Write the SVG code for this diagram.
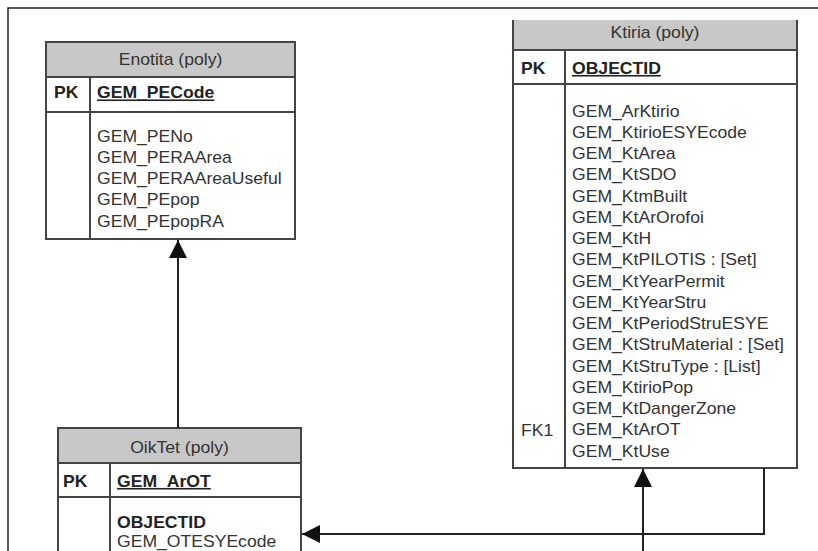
<svg xmlns="http://www.w3.org/2000/svg" width="818" height="551" viewBox="0 0 818 551">
<style>
text { font-family: "Liberation Sans", Arial, sans-serif; font-size: 16px; fill: #333; }
.b { font-weight: bold; fill: #222; }
.u { text-decoration: underline; }
.h { text-anchor: middle; }
.box { fill: #fff; stroke: #444; stroke-width: 2; }
.hdr { fill: #c8c8c8; stroke: #444; stroke-width: 2; }
.ln { fill: none; stroke: #444; stroke-width: 2; }
.con { fill: none; stroke: #222; stroke-width: 2; }
</style>
<defs>
<marker id="arr" markerUnits="userSpaceOnUse" markerWidth="19" markerHeight="19" refX="18" refY="9" orient="auto">
<path d="M0,0 L18,9 L0,18 z" fill="#111"/>
</marker>
</defs>
<rect x="0" y="0" width="818" height="551" fill="#fff"/>
<path d="M8,551 V8 H818" fill="none" stroke="#222" stroke-width="1.5"/>

<g id="enotita">
<rect class="box" x="46" y="42" width="249" height="197"/>
<rect class="hdr" x="46" y="42" width="249" height="35"/>
<line class="ln" x1="46" y1="112" x2="295" y2="112"/>
<line class="ln" x1="90" y1="77" x2="90" y2="239"/>
<g transform="translate(170.5,0) scale(1.1,1)"><text class="h" x="0" y="65">Enotita (poly)</text></g>
<g transform="translate(54,0) scale(1.1,1)"><text class="b" x="0" y="98.5">PK</text></g>
<g transform="translate(97,0) scale(1.1,1)">
<text class="b u" x="0" y="98.5">GEM_PECode</text>
<text x="0" y="141.7">GEM_PENo</text>
<text x="0" y="163">GEM_PERAArea</text>
<text x="0" y="184.2">GEM_PERAAreaUseful</text>
<text x="0" y="205.5">GEM_PEpop</text>
<text x="0" y="226.7">GEM_PEpopRA</text>
</g>
</g>

<g id="ktiria">
<rect x="513" y="20" width="284" height="448" fill="#fff"/>
<rect x="513" y="20" width="284" height="30" fill="#c8c8c8"/>
<path class="ln" d="M513,20 V468 H797 V20"/>
<line class="ln" x1="513" y1="50" x2="797" y2="50"/>
<line class="ln" x1="513" y1="84" x2="797" y2="84"/>
<line class="ln" x1="565" y1="50" x2="565" y2="468"/>
<g transform="translate(655,0) scale(1.1,1)"><text class="h" x="0" y="38">Ktiria (poly)</text></g>
<g transform="translate(521,0) scale(1.1,1)">
<text class="b" x="0" y="74">PK</text>
<text x="0" y="436">FK1</text>
</g>
<g transform="translate(572,0) scale(1.1,1)">
<text class="b u" x="0" y="74">OBJECTID</text>
<text x="0" y="116.7">GEM_ArKtirio</text>
<text x="0" y="137.9">GEM_KtirioESYEcode</text>
<text x="0" y="159.2">GEM_KtArea</text>
<text x="0" y="180.4">GEM_KtSDO</text>
<text x="0" y="201.7">GEM_KtmBuilt</text>
<text x="0" y="222.9">GEM_KtArOrofoi</text>
<text x="0" y="244.2">GEM_KtH</text>
<text x="0" y="265.4">GEM_KtPILOTIS : [Set]</text>
<text x="0" y="286.7">GEM_KtYearPermit</text>
<text x="0" y="307.9">GEM_KtYearStru</text>
<text x="0" y="329.2">GEM_KtPeriodStruESYE</text>
<text x="0" y="350.4">GEM_KtStruMaterial : [Set]</text>
<text x="0" y="371.7">GEM_KtStruType : [List]</text>
<text x="0" y="392.9">GEM_KtirioPop</text>
<text x="0" y="414.2">GEM_KtDangerZone</text>
<text x="0" y="435.4">GEM_KtArOT</text>
<text x="0" y="456.7">GEM_KtUse</text>
</g>
</g>

<g id="oiktet">
<rect x="58" y="428" width="243" height="130" fill="#fff"/>
<rect class="hdr" x="58" y="428" width="243" height="35"/>
<path class="ln" d="M58,560 V428 H301 V560"/>
<line class="ln" x1="58" y1="497" x2="301" y2="497"/>
<line class="ln" x1="110" y1="463" x2="110" y2="560"/>
<g transform="translate(179.5,0) scale(1.1,1)"><text class="h" x="0" y="453">OikTet (poly)</text></g>
<g transform="translate(63,0) scale(1.1,1)"><text class="b" x="0" y="487">PK</text></g>
<g transform="translate(117,0) scale(1.1,1)">
<text class="b u" x="0" y="487">GEM_ArOT</text>
<text class="b" x="0" y="528">OBJECTID</text>
<text x="0" y="547">GEM_OTESYEcode</text>
</g>
</g>

<g id="connectors">
<path class="con" d="M178,428 V240" marker-end="url(#arr)"/>
<path class="con" d="M764,468 V534 H302" marker-end="url(#arr)"/>
<path class="con" d="M643,560 V469" marker-end="url(#arr)"/>
</g>
</svg>
